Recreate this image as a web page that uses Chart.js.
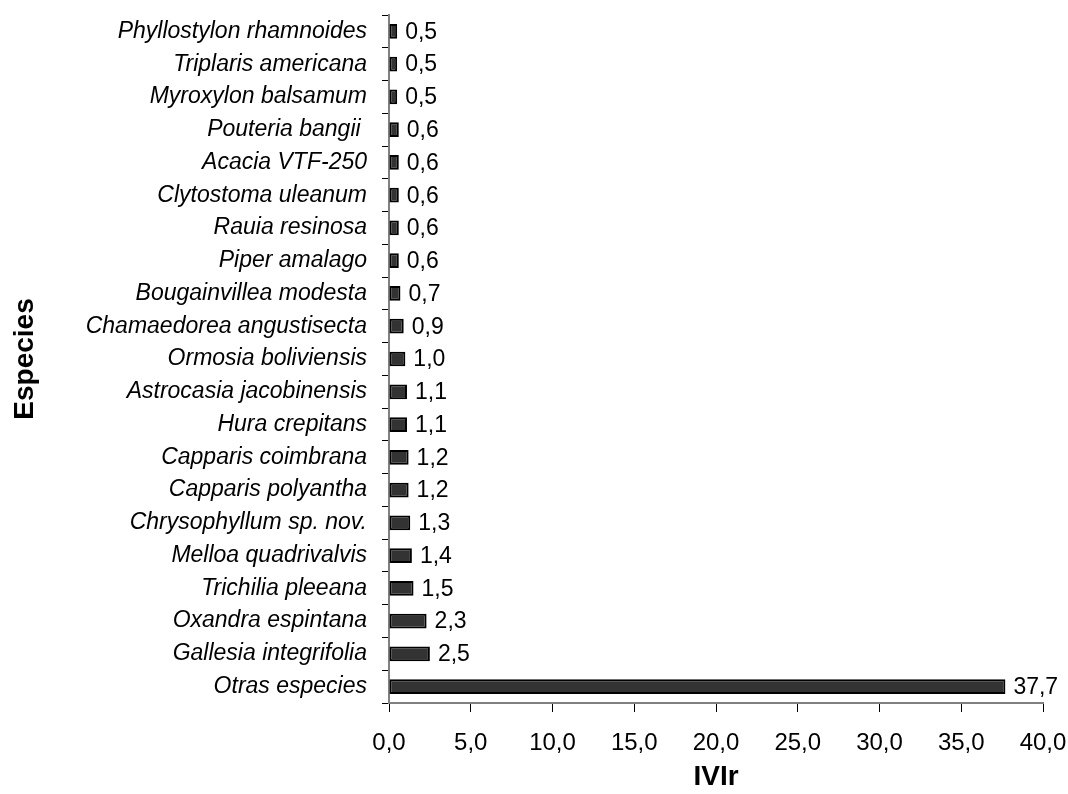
<!DOCTYPE html>
<html>
<head>
<meta charset="utf-8">
<script src="https://cdn.jsdelivr.net/npm/chart.js@4.4.1/dist/chart.umd.min.js"></script>
<style>
  html, body { margin: 0; padding: 0; background: #fff; }
  #wrap { width: 1068px; height: 794px; }
</style>
</head>
<body>
<div id="wrap"><canvas id="grafico" width="1068" height="794"></canvas></div>
<script>
// especies, de arriba hacia abajo
let especies = [
	"Phyllostylon rhamnoides", "Triplaris americana", "Myroxylon balsamum", "Pouteria bangii ",
	"Acacia VTF-250", "Clytostoma uleanum", "Rauia resinosa", "Piper amalago",
	"Bougainvillea modesta", "Chamaedorea angustisecta", "Ormosia boliviensis",
	"Astrocasia jacobinensis", "Hura crepitans", "Capparis coimbrana", "Capparis polyantha",
	"Chrysophyllum sp. nov.", "Melloa quadrivalvis", "Trichilia pleeana", "Oxandra espintana",
	"Gallesia integrifolia", "Otras especies"
];
let ivir = [
	0.5, 0.5, 0.5, 0.6, 0.6, 0.6, 0.6, 0.6, 0.7, 0.9, 1.0,
	1.1, 1.1, 1.2, 1.2, 1.3, 1.4, 1.5, 2.3, 2.5, 37.7
];
let ticksX = [0, 5, 10, 15, 20, 25, 30, 35, 40];

const fuente = "Arial, 'Liberation Sans', sans-serif";
const coma = v => v.toFixed(1).replace(".", ",");

// etiquetas de valor al final de cada barra
const etiquetas = {
	id: "etiquetas",
	afterDatasetsDraw(chart) {
		let ctx = chart.ctx;
		let meta = chart.getDatasetMeta(0);
		ctx.save();
		ctx.font = "23px " + fuente;
		ctx.fillStyle = "#000";
		ctx.textAlign = "left";
		ctx.textBaseline = "middle";
		meta.data.forEach((bar, i) => {
			ctx.fillText(coma(ivir[i]), bar.x + 8, bar.y + 1);
		});
		ctx.restore();
	}
};

new Chart("grafico", {
	type: "bar",
	data: {
		labels: especies,
		datasets: [{
			data: ivir,
			backgroundColor: "#333333",
			borderColor: "#000000",
			borderWidth: 2,
			borderSkipped: false,
			barPercentage: 0.9,
			categoryPercentage: 0.5
		}]
	},
	options: {
		indexAxis: "y",
		responsive: false,
		animation: false,
		layout: { padding: { top: 15, right: 25, left: 0, bottom: 0 } },
		plugins: {
			legend: { display: false },
			tooltip: { enabled: false }
		},
		scales: {
			x: {
				min: 0,
				max: 40,
				afterBuildTicks: s => { s.ticks = ticksX.map(v => ({ value: v })); },
				afterFit: s => { s.height = 91; s.paddingRight = 0; },
				border: { color: "#808080", width: 2 },
				grid: { drawOnChartArea: false, tickLength: 9, tickColor: "#000", tickWidth: 1 },
				ticks: {
					color: "#000",
					font: { size: 24, family: fuente },
					padding: 17,
					maxRotation: 0,
					callback: v => coma(v)
				},
				title: {
					display: true,
					text: "IVIr",
					color: "#000",
					font: { size: 28, weight: "bold", family: fuente },
					padding: { top: 0, bottom: 0 }
				}
			},
			y: {
				afterFit: s => { s.width = 389; s.paddingTop = 0; s.paddingBottom = 0; },
				border: { color: "#808080", width: 2 },
				grid: { drawOnChartArea: false, tickLength: 7, tickColor: "#000", tickWidth: 1, offset: true },
				ticks: {
					color: "#000",
					font: { size: 23, style: "italic", family: fuente },
					padding: 15,
					autoSkip: false
				},
				title: {
					display: true,
					text: "Especies",
					color: "#000",
					font: { size: 28, weight: "bold", family: fuente },
					padding: { top: 8, bottom: 0 }
				}
			}
		}
	},
	plugins: [etiquetas]
});
</script>
</body>
</html>
